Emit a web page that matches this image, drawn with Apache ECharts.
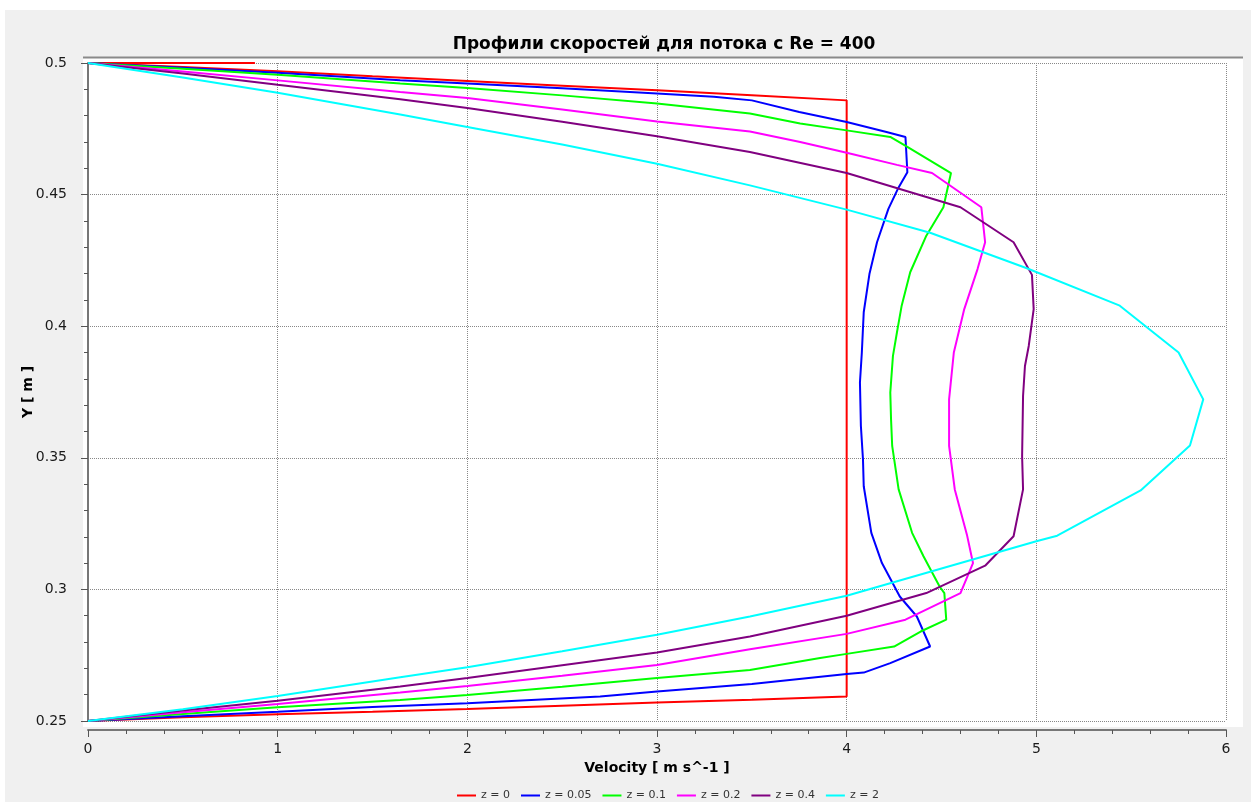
<!DOCTYPE html>
<html>
<head>
<meta charset="utf-8">
<script src="https://cdn.jsdelivr.net/npm/echarts@6/dist/echarts.min.js"></script>
<style>
  html, body { margin: 0; padding: 0; background: #fff; }
  #chart { width: 1251px; height: 802px; }
</style>
</head>
<body>
<div id="chart"></div>
<script>
// профили скорости: пары [velocity, y]
var seriesNames = ['z = 0', 'z = 0.05', 'z = 0.1', 'z = 0.2', 'z = 0.4', 'z = 2'];
var seriesColors = ['#ff0000', '#0000ff', '#00ff00', '#ff00ff', '#800080', '#00ffff'];

var profileZ0 = [[0.88,0.5],[0,0.5],[0.5,0.4985],[1,0.4969],[1.5,0.4950],[2,0.4932],[2.5,0.4914],[3,0.4896],[3.5,0.4877],[4,0.4858],
  [4,0.2593],[3.5,0.2581],[3,0.2570],[2.5,0.2558],[2,0.2546],[1.5,0.2535],[1,0.2526],[0.5,0.2514],[0,0.25]];

var profileZ005 = [[0,0.5],[0.5,0.4982],[1,0.4963],[1.646,0.4934],[2,0.4922],[2.5,0.4904],[3,0.4884],[3.3,0.4872],[3.5,0.4858],[3.75,0.4814],
  [4,0.4776],[4.21,0.4738],[4.31,0.4719],[4.32,0.4585],[4.27,0.4522],[4.22,0.4446],[4.16,0.4319],[4.12,0.4198],[4.09,0.4053],[4.08,0.39],
  [4.07,0.3786],[4.075,0.3621],[4.086,0.3494],[4.09,0.3392],[4.13,0.3215],[4.186,0.31],[4.28,0.2973],[4.37,0.2897],[4.44,0.2783],[4.23,0.272],
  [4.09,0.2684],[4,0.2679],[3.5,0.2641],[3,0.2612],[2.7,0.2593],[2,0.2567],[1.5,0.2553],[1,0.2535],[0.5,0.2518],[0,0.25]];

var profileZ01 = [[0,0.5],[0.5,0.4978],[1,0.4955],[1.646,0.4922],[2,0.4905],[2.5,0.4877],[3,0.4846],[3.49,0.4808],[3.755,0.4770],[4,0.4744],
  [4.23,0.4719],[4.32,0.4681],[4.55,0.4582],[4.51,0.4452],[4.42,0.4344],[4.335,0.4205],[4.29,0.4078],[4.265,0.3976],[4.244,0.3887],[4.23,0.3748],
  [4.234,0.3646],[4.24,0.3545],[4.274,0.338],[4.345,0.3215],[4.405,0.3126],[4.49,0.3011],[4.515,0.2986],[4.525,0.2885],[4.39,0.284],[4.25,0.2783],
  [4,0.2755],[3.86,0.2739],[3.49,0.2694],[3,0.2663],[2.5,0.2630],[2,0.2599],[1.646,0.258],[1,0.2552],[0.5,0.2527],[0,0.25]];

var profileZ02 = [[0,0.5],[0.5,0.4968],[1,0.4934],[1.646,0.489],[2,0.4867],[2.5,0.4823],[3,0.4778],[3.49,0.474],[3.755,0.47],[4,0.4659],
  [4.265,0.4613],[4.45,0.4582],[4.71,0.4452],[4.73,0.4319],[4.69,0.4217],[4.62,0.4065],[4.565,0.39],[4.54,0.3722],[4.54,0.3545],[4.57,0.338],
  [4.634,0.3208],[4.666,0.31],[4.6,0.2986],[4.31,0.2885],[4,0.2831],[3.49,0.2773],[3,0.2713],[2.5,0.2672],[2,0.2633],[1.646,0.2608],
  [1,0.2565],[0.5,0.2533],[0,0.25]];

var profileZ04 = [[0,0.5],[0.5,0.4960],[1,0.4917],[1.646,0.4862],[2,0.4829],[2.5,0.4777],[3,0.4722],[3.49,0.4662],[4,0.4582],[4.6,0.4452],
  [4.88,0.4319],[4.977,0.4195],[4.986,0.4065],[4.96,0.3925],[4.94,0.3849],[4.93,0.3735],[4.925,0.3506],[4.93,0.338],[4.88,0.3202],[4.73,0.309],
  [4.42,0.2986],[4,0.29],[3.49,0.2821],[3,0.276],[2.5,0.2712],[2,0.2663],[1.646,0.2631],[1,0.2577],[0.5,0.2540],[0,0.25]];

var profileZ2 = [[0,0.5],[0.5,0.4945],[1,0.4887],[1.646,0.4804],[2,0.4757],[2.5,0.4690],[3,0.4617],[3.49,0.4535],[4,0.4443],[4.44,0.4355],
  [4.95,0.422],[5.44,0.4078],[5.75,0.39],[5.88,0.3722],[5.81,0.3547],[5.55,0.3376],[5.11,0.3204],[5.0,0.3183],[4,0.2976],[3.49,0.2897],
  [3,0.2828],[2.5,0.2765],[2,0.2704],[1.646,0.2666],[1,0.2595],[0.5,0.2545],[0,0.25]];

var profiles = [profileZ0, profileZ005, profileZ01, profileZ02, profileZ04, profileZ2];

var chart = echarts.init(document.getElementById('chart'));

var series = [];
for (var i = 0; i < profiles.length; i++) {
  series.push({
    name: seriesNames[i],
    type: 'line',
    data: profiles[i],
    showSymbol: false,
    symbol: 'none',
    color: seriesColors[i],
    lineStyle: { width: 2, color: seriesColors[i] },
    z: 3
  });
}

var axisFont = { fontFamily: 'DejaVu Sans', fontSize: 14, color: '#1a1a1a' };

var option = {
  animation: false,
  backgroundColor: '#f0f0f0',
  title: {
    text: 'Профили скоростей для потока с Re = 400',
    left: 659,
    top: 31,
    textAlign: 'center',
    textStyle: { fontFamily: 'DejaVu Sans', fontWeight: 'bold', fontSize: 17, color: '#000' }
  },
  legend: {
    data: seriesNames,
    left: 452,
    top: 785,
    icon: 'rect',
    itemWidth: 19,
    itemHeight: 2,
    itemGap: 11,
    textStyle: { fontFamily: 'DejaVu Sans', fontSize: 11, color: '#333' }
  },
  grid: { left: 88, right: 25, top: 63, bottom: 81 },
  //фон области графика и верхняя рамка
  graphic: [
    { type: 'rect', z: -10, silent: true, shape: { x: 0, y: 0, width: 1251, height: 10 }, style: { fill: '#fff' } },
    { type: 'rect', z: -10, silent: true, shape: { x: 0, y: 0, width: 5, height: 802 }, style: { fill: '#fff' } },
    { type: 'rect', z: -10, silent: true, shape: { x: 83, y: 57, width: 1160, height: 670 }, style: { fill: '#fff' } },
    { type: 'line', z: -9, silent: true, shape: { x1: 83, y1: 57.5, x2: 1243, y2: 57.5 }, style: { stroke: '#8a8a8a', lineWidth: 2 } }
  ],
  xAxis: {
    type: 'value',
    min: 0,
    max: 6,
    interval: 1,
    offset: 9,
    name: 'Velocity [ m s^-1 ]',
    nameLocation: 'middle',
    nameGap: 31,
    nameMoveOverlap: false,
    nameTextStyle: { fontFamily: 'DejaVu Sans', fontWeight: 'bold', fontSize: 14, color: '#000' },
    axisLine: { show: true, lineStyle: { color: '#777', width: 2 } },
    axisTick: { show: true, length: 7, lineStyle: { color: '#555' } },
    minorTick: { show: true, splitNumber: 5, length: 4, lineStyle: { color: '#555' } },
    axisLabel: Object.assign({ margin: 12 }, axisFont),
    splitLine: { show: true, lineStyle: { type: 'dotted', color: '#888', width: 1 } }
  },
  yAxis: {
    type: 'value',
    min: 0.25,
    max: 0.5,
    interval: 0.05,
    offset: 6,
    name: 'Y [ m ]',
    nameLocation: 'middle',
    nameGap: 47,
    nameMoveOverlap: false,
    nameTextStyle: { fontFamily: 'DejaVu Sans', fontWeight: 'bold', fontSize: 14, color: '#000' },
    axisLine: { show: true, lineStyle: { color: '#777', width: 2 } },
    axisTick: { show: true, length: 7, lineStyle: { color: '#555' } },
    minorTick: { show: true, splitNumber: 5, length: 4, lineStyle: { color: '#555' } },
    axisLabel: Object.assign({ margin: 15 }, axisFont),
    splitLine: { show: true, lineStyle: { type: 'dotted', color: '#888', width: 1 } }
  },
  series: series
};

chart.setOption(option);
</script>
</body>
</html>
